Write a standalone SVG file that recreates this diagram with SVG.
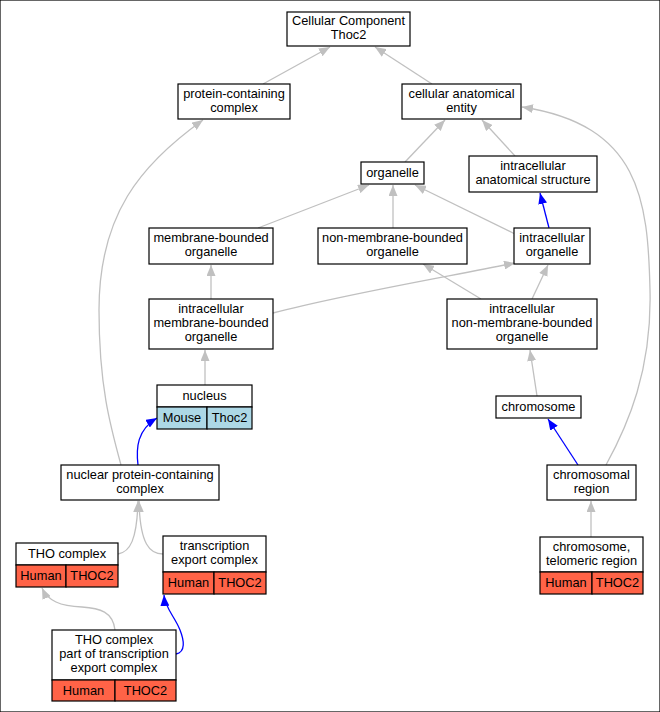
<svg xmlns="http://www.w3.org/2000/svg" width="660" height="712" viewBox="0 0 660 712">
<style>
rect{stroke:#000;stroke-width:1.2}
.w{fill:#fff}
.h{fill:#ff6347}
.m{fill:#add8e6}
text{font-family:"Liberation Sans",Arial,sans-serif;font-size:12.8px;text-anchor:middle;fill:#000}
.g{fill:none;stroke:#c0c0c0;stroke-width:1.3}
.b{fill:none;stroke:#0000ff;stroke-width:1.3}
</style>
<defs>
<marker id="ag" markerUnits="userSpaceOnUse" markerWidth="11" markerHeight="9" refX="11" refY="4.5" orient="auto"><path d="M0,0 L11,4.5 L0,9 z" fill="#c0c0c0"/></marker>
<marker id="ab" markerUnits="userSpaceOnUse" markerWidth="11" markerHeight="9" refX="11" refY="4.5" orient="auto"><path d="M0,0 L11,4.5 L0,9 z" fill="#0000ff"/></marker>
</defs>
<rect x="0" y="0" width="660" height="712" fill="#fff" stroke="none"/>
<g id="edges">
<path class="g" marker-end="url(#ag)" d="M263,84 L330,47"/>
<path class="g" marker-end="url(#ag)" d="M432,84 L375,47"/>
<path class="g" marker-end="url(#ag)" d="M405,162 L445,120"/>
<path class="g" marker-end="url(#ag)" d="M515,156 L482,120"/>
<path class="g" marker-end="url(#ag)" d="M606,465 C628,425 652,370 650,290 C648,200 640,125 522,107"/>
<path class="g" marker-end="url(#ag)" d="M121,465 C110,425 99,385 99,310 C99,215 140,165 203,120"/>
<path class="g" marker-end="url(#ag)" d="M258,228 L369,185"/>
<path class="g" marker-end="url(#ag)" d="M393,228 L393,185"/>
<path class="g" marker-end="url(#ag)" d="M515,234 L415,185"/>
<path class="b" marker-end="url(#ab)" d="M549,228 L540,193"/>
<path class="g" marker-end="url(#ag)" d="M211,299 L211,265"/>
<path class="g" marker-end="url(#ag)" d="M273,313 C340,295 440,278 515,263"/>
<path class="g" marker-end="url(#ag)" d="M481,299 L423,264"/>
<path class="g" marker-end="url(#ag)" d="M532,299 L548,265"/>
<path class="g" marker-end="url(#ag)" d="M205,385 L205,350"/>
<path class="g" marker-end="url(#ag)" d="M537,396 L530,350"/>
<path class="b" marker-end="url(#ab)" d="M578,465 L548,419"/>
<path class="b" marker-end="url(#ab)" d="M138,465 C136,448 137,430 157,418"/>
<path class="g" marker-end="url(#ag)" d="M118,554 C130,552 137,540 138,501"/>
<path class="g" marker-end="url(#ag)" d="M163,554 C150,554 140,545 139,501"/>
<path class="g" marker-end="url(#ag)" d="M591,537 L591,501"/>
<path class="g" marker-end="url(#ag)" d="M115,630 C113,612 100,608 82,607 C60,606 48,601 42,588"/>
<path class="b" marker-end="url(#ab)" d="M176,654 C186,652 184,640 180,630 C175,617 165,608 164,595"/>
</g>
<g id="n_cc"><rect class="w" x="287" y="12" width="123" height="34"/><text x="348.5" y="25">Cellular Component</text><text x="348.5" y="39">Thoc2</text></g>
<g id="n_pcc"><rect class="w" x="178" y="84" width="112" height="35"/><text x="234" y="98">protein-containing</text><text x="234" y="112">complex</text></g>
<g id="n_cae"><rect class="w" x="402" y="84" width="119" height="35"/><text x="461.5" y="98">cellular anatomical</text><text x="461.5" y="112">entity</text></g>
<g id="n_org"><rect class="w" x="361" y="162" width="63" height="22"/><text x="392.5" y="177">organelle</text></g>
<g id="n_ias"><rect class="w" x="469" y="156" width="128" height="36"/><text x="533" y="170">intracellular</text><text x="533" y="184">anatomical structure</text></g>
<g id="n_mbo"><rect class="w" x="149" y="228" width="124" height="36"/><text x="211" y="242">membrane-bounded</text><text x="211" y="256">organelle</text></g>
<g id="n_nmbo"><rect class="w" x="318" y="228" width="149" height="36"/><text x="392.5" y="242">non-membrane-bounded</text><text x="392.5" y="256">organelle</text></g>
<g id="n_io"><rect class="w" x="514" y="228" width="76" height="36"/><text x="552" y="242">intracellular</text><text x="552" y="256">organelle</text></g>
<g id="n_imbo"><rect class="w" x="149" y="299" width="124" height="50"/><text x="211" y="313">intracellular</text><text x="211" y="327">membrane-bounded</text><text x="211" y="341">organelle</text></g>
<g id="n_inmbo"><rect class="w" x="447" y="299" width="150" height="50"/><text x="522" y="313">intracellular</text><text x="522" y="327">non-membrane-bounded</text><text x="522" y="341">organelle</text></g>
<g id="n_nuc"><rect class="w" x="157" y="385" width="95" height="22"/><rect class="m" x="157" y="407" width="50" height="22"/><rect class="m" x="207" y="407" width="45" height="22"/><text x="204.5" y="400">nucleus</text><text x="182" y="422">Mouse</text><text x="229.5" y="422">Thoc2</text></g>
<g id="n_chr"><rect class="w" x="496" y="396" width="85" height="22"/><text x="538.5" y="411">chromosome</text></g>
<g id="n_npcc"><rect class="w" x="61" y="465" width="158" height="35"/><text x="140" y="479">nuclear protein-containing</text><text x="140" y="493">complex</text></g>
<g id="n_cr"><rect class="w" x="547" y="465" width="89" height="35"/><text x="591.5" y="479">chromosomal</text><text x="591.5" y="493">region</text></g>
<g id="n_tho"><rect class="w" x="16" y="543" width="102" height="22"/><rect class="h" x="16" y="565" width="50" height="22"/><rect class="h" x="66" y="565" width="52" height="22"/><text x="67" y="558">THO complex</text><text x="41" y="580">Human</text><text x="92" y="580">THOC2</text></g>
<g id="n_tec"><rect class="w" x="163" y="536" width="103" height="36"/><rect class="h" x="163" y="572" width="51" height="22"/><rect class="h" x="214" y="572" width="52" height="22"/><text x="214.5" y="550">transcription</text><text x="214.5" y="564">export complex</text><text x="188.5" y="587">Human</text><text x="240" y="587">THOC2</text></g>
<g id="n_ctr"><rect class="w" x="540" y="537" width="103" height="35"/><rect class="h" x="540" y="572" width="52" height="22"/><rect class="h" x="592" y="572" width="51" height="22"/><text x="591.5" y="551">chromosome,</text><text x="591.5" y="565">telomeric region</text><text x="566" y="587">Human</text><text x="617.5" y="587">THOC2</text></g>
<g id="n_thop"><rect class="w" x="52" y="630" width="124" height="50"/><rect class="h" x="52" y="680" width="63" height="21"/><rect class="h" x="115" y="680" width="61" height="21"/><text x="114" y="644">THO complex</text><text x="114" y="658">part of transcription</text><text x="114" y="672">export complex</text><text x="83.5" y="695">Human</text><text x="145.5" y="695">THOC2</text></g>
</svg>
